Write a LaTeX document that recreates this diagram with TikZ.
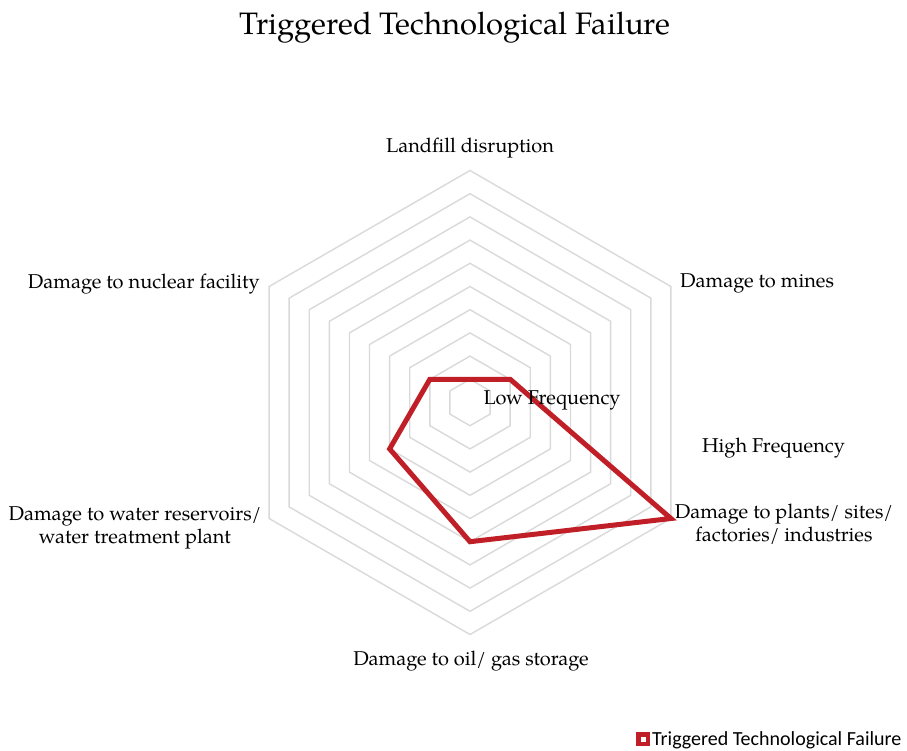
\documentclass[tikz,border=0pt]{standalone}
\usepackage{fontspec}
\usetikzlibrary{calc}
\setmainfont{TeX Gyre Pagella}
\newfontfamily\legendfont{Carlito}
\definecolor{ringgray}{RGB}{217,217,217}
\definecolor{seriesred}{RGB}{192,31,40}
\begin{document}
\begin{tikzpicture}[x=1pt,y=-1pt,
  ring/.style={draw=ringgray,line width=1.4pt,line join=miter},
  series/.style={draw=seriesred,line width=5pt,line join=miter},
  lbl/.style={inner sep=0pt,font=\fontsize{20}{23.5}\selectfont},
  ttl/.style={inner sep=0pt,font=\fontsize{31}{36}\selectfont},
  leg/.style={inner sep=0pt,font=\legendfont\fontsize{20}{22}\selectfont}]
\useasboundingbox (0,0) rectangle (907,751);
\coordinate (c) at (470,402.5);
\def\d{23.2}
\foreach \k in {1,...,10}{
  \draw[ring] ($(c)+(-90:\k*\d)$) -- ($(c)+(-30:\k*\d)$) -- ($(c)+(30:\k*\d)$) -- ($(c)+(90:\k*\d)$) -- ($(c)+(150:\k*\d)$) -- ($(c)+(210:\k*\d)$) -- cycle;
}
\coordinate (p1) at ($(c)+(-90:1*\d)$);
\coordinate (p2) at ($(c)+(-30:2*\d)$);
\coordinate (p3) at ($(c)+(30:10*\d)$);
\coordinate (p4) at ($(c)+(90:6*\d)$);
\coordinate (p5) at ($(c)+(150:4*\d)$);
\coordinate (p6) at ($(c)+(210:2*\d)$);
\draw[series] (p1) -- (p2) -- (p3) -- (p4) -- (p5) -- (p6) -- cycle;
\node[ttl,anchor=base] (title) at (455,35) {Triggered Technological Failure};
\node[lbl,anchor=base] (landfill) at (470,152.5) {Landfill disruption};
\node[lbl,anchor=base west] (mines) at (680,287.5) {Damage to mines};
\node[lbl,anchor=base,align=center] (plants) at (784,541.5) {Damage to plants/ sites/\\factories/ industries};
\node[lbl,anchor=base] (oil) at (471,665) {Damage to oil/ gas storage};
\node[lbl,anchor=base,align=center] (water) at (135,543.5) {Damage to water reservoirs/\\water treatment plant};
\node[lbl,anchor=base east] (nuclear) at (260,288) {Damage to nuclear facility};
\node[lbl,anchor=base] (low) at (552,404) {Low Frequency};
\node[lbl,anchor=base] (high) at (773.5,452.5) {High Frequency};
\node[fill=seriesred,minimum size=14pt,inner sep=0pt] (mark) at (643,739) {};
\node[fill=white,minimum size=5pt,inner sep=0pt] (markin) at (mark.center) {};
\node[leg,anchor=base west] (legtext) at (652,745) {Triggered Technological Failure};
\end{tikzpicture}
\end{document}
